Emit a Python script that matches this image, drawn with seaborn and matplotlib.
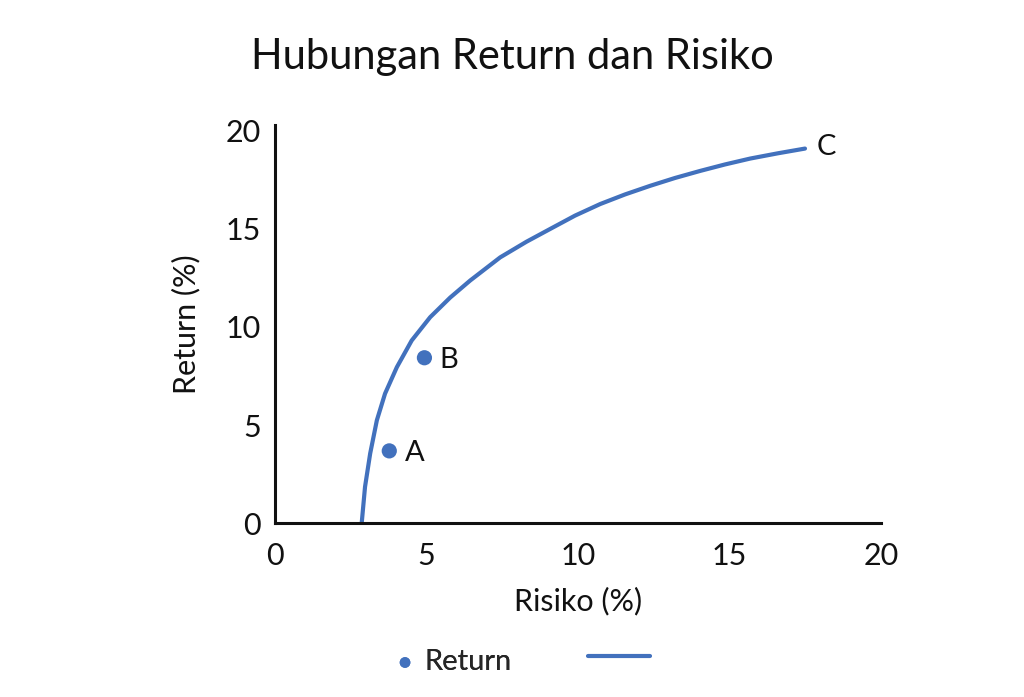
import matplotlib
matplotlib.use("Agg")
import matplotlib.pyplot as plt
import seaborn as sns
import pandas as pd

# Efficient frontier curve (risk %, return %)
curve_risk = [2.86, 2.97, 3.14, 3.36, 3.63, 4.02, 4.51, 5.12, 5.78, 6.44, 7.43, 8.30,
              9.08, 9.90, 10.73, 11.55, 12.38, 13.20, 14.03, 14.85, 15.68, 16.60, 17.49]
curve_return = [0.0, 1.85, 3.55, 5.24, 6.6, 7.95, 9.31, 10.5, 11.5, 12.37, 13.55, 14.35,
                15.0, 15.68, 16.27, 16.76, 17.2, 17.6, 17.96, 18.29, 18.59, 18.86, 19.1]

# Individual portfolios
point_names = ["A", "B"]
point_risk = [3.77, 4.93]
point_return = [3.68, 8.43]

end_label = "C"

x_ticks = [0, 5, 10, 15, 20]
y_ticks = [0, 5, 10, 15, 20]

blue = "#4271BD"
ink = "#111111"

sns.set_theme(style="white")
plt.rcParams["font.family"] = ["Lato", "DejaVu Sans"]

fig = plt.figure(figsize=(10.24, 6.97), dpi=100)
ax = fig.add_axes([0.2686, 0.2496, 0.5918, 0.571])

curve_df = pd.DataFrame({"risk": curve_risk, "ret": curve_return})
pts_df = pd.DataFrame({"risk": point_risk, "ret": point_return, "name": point_names})

sns.lineplot(data=curve_df, x="risk", y="ret", ax=ax, color=blue, linewidth=3.0,
             sort=False, label=" ", estimator=None)
sns.scatterplot(data=pts_df, x="risk", y="ret", ax=ax, color=blue, s=120,
                edgecolor="none", label="Return", zorder=3)

for name, rx, ry in zip(point_names, point_risk, point_return):
    ax.text(rx + 0.5, ry - 0.1, name, fontsize=21, va="center", ha="left", color=ink)
ax.text(curve_risk[-1] + 0.4, curve_return[-1] + 0.1, end_label, fontsize=21,
        va="center", ha="left", color=ink)

ax.set_xlim(0, 20)
ax.set_ylim(0, 20.3)
ax.set_xticks(x_ticks)
ax.set_yticks(y_ticks)
ax.tick_params(axis="y", labelsize=22, length=0, pad=10, colors=ink)
ax.tick_params(axis="x", labelsize=22, length=0, pad=14, colors=ink)

ax.set_xlabel("Risiko (%)", fontsize=22, labelpad=12, color=ink)
ax.set_ylabel("Return (%)", fontsize=22, labelpad=18, color=ink)

sns.despine(ax=ax)
for side in ("left", "bottom"):
    ax.spines[side].set_color(ink)
    ax.spines[side].set_linewidth(2.2)

fig.suptitle("Hubungan Return dan Risiko", fontsize=30, x=0.5, y=0.945, color=ink)

# Legend below the plot: the marker entry and the line entry sit in separate boxes
handles, labels = ax.get_legend_handles_labels()
h_pts = handles[labels.index("Return")]
h_line = handles[labels.index(" ")]
leg_pts = ax.legend([h_pts], ["Return"], loc="center left",
                    bbox_to_anchor=(0.387, 0.05), bbox_transform=fig.transFigure,
                    frameon=False, fontsize=21, handlelength=0.6, handletextpad=0.35,
                    borderpad=0, borderaxespad=0, markerscale=0.7)
ax.add_artist(leg_pts)
fig.legend([h_line], [" "], loc="center left",
           bbox_to_anchor=(0.574, 0.056), frameon=False, fontsize=21,
           handlelength=2.12, handletextpad=0.3, borderpad=0, borderaxespad=0)

fig.savefig("out.png", dpi=100, facecolor="white")
